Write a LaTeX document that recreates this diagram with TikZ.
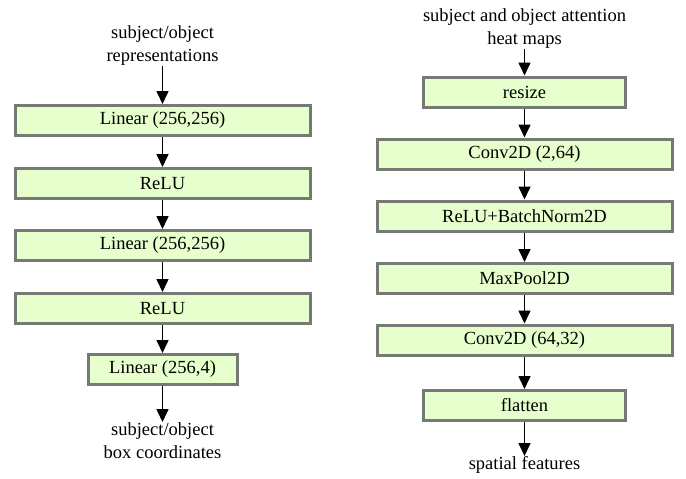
\documentclass[tikz,border=0pt]{standalone}
\usepackage{fontspec}
\setmainfont{Liberation Serif}
\usetikzlibrary{arrows.meta}
\definecolor{boxfill}{RGB}{230,255,204}
\definecolor{boxline}{RGB}{118,122,116}
\begin{document}
\begin{tikzpicture}[x=1pt,y=-1pt,
  every node/.style={font=\fontsize{18.5}{23}\selectfont},
  layer/.style={draw=boxline, line width=3pt, fill=boxfill, inner sep=0pt, minimum height=30pt},
  wide/.style={layer, minimum width=295pt},
  narrow/.style={layer, minimum width=202pt},
  lbl/.style={align=center, inner sep=0pt},
  flow/.style={line width=1.6pt, -{Triangle[length=13pt,width=12pt]}}]
\useasboundingbox (0,0) rectangle (686,479);
% left column
\node[lbl, anchor=south] (lin) at (162.5,66) {subject/object\\representations};
\node[wide] (l1) at (162.5,120.5) {Linear (256,256)};
\node[wide] (l2) at (162.5,183.5) {ReLU};
\node[wide] (l3) at (162.5,245.5) {Linear (256,256)};
\node[wide] (l4) at (162.5,308.5) {ReLU};
\node[layer, minimum width=149pt] (l5) at (162.5,369.5) {Linear (256,4)};
\node[lbl, anchor=north] (lout) at (162.5,422) {subject/object\\box coordinates};
\draw[flow] (lin.south) -- (l1.north);
\draw[flow] (l1) -- (l2);
\draw[flow] (l2) -- (l3);
\draw[flow] (l3) -- (l4);
\draw[flow] (l4) -- (l5);
\draw[flow] (l5.south) -- (lout.north);
% right column
\node[lbl, anchor=south] (rin) at (524.5,49) {subject and object attention\\heat maps};
\node[narrow] (r1) at (524.5,92) {resize};
\node[wide] (r2) at (524.5,154) {Conv2D (2,64)};
\node[wide] (r3) at (524.5,216) {ReLU+BatchNorm2D};
\node[wide] (r4) at (524.5,278.5) {MaxPool2D};
\node[wide] (r5) at (524.5,340) {Conv2D (64,32)};
\node[narrow] (r6) at (524.5,405.5) {flatten};
\node[lbl, anchor=north] (rout) at (524.5,456) {spatial features};
\draw[flow] (rin.south) -- (r1.north);
\draw[flow] (r1) -- (r2);
\draw[flow] (r2) -- (r3);
\draw[flow] (r3) -- (r4);
\draw[flow] (r4) -- (r5);
\draw[flow] (r5) -- (r6);
\draw[flow] (r6.south) -- (rout.north);
\end{tikzpicture}
\end{document}
